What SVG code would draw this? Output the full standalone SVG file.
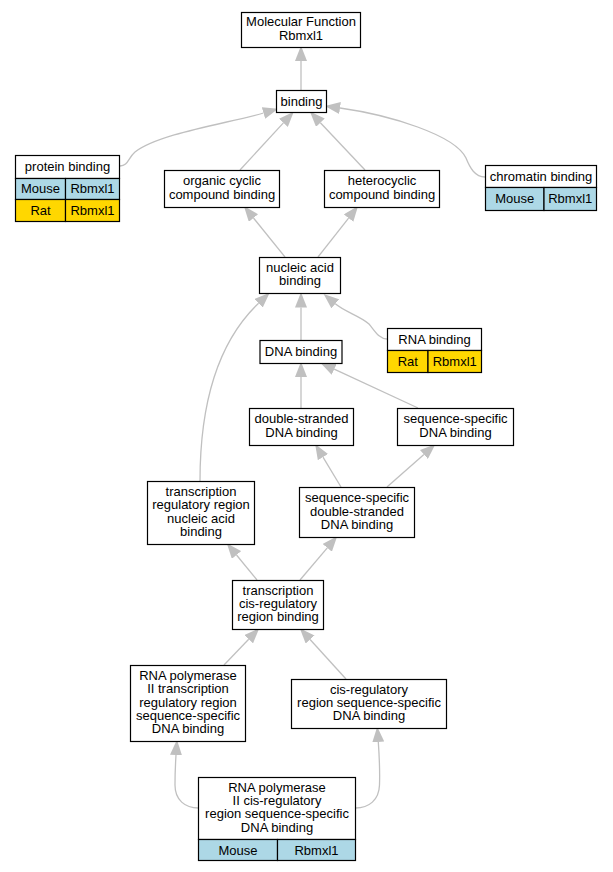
<svg xmlns="http://www.w3.org/2000/svg" width="613" height="872" viewBox="0 0 613 872">
<style>
.n{fill:#ffffff;stroke:#000000;stroke-width:1.2}
.m{fill:#add8e6;stroke:#000000;stroke-width:1.2}
.r{fill:#ffd700;stroke:#000000;stroke-width:1.2}
text{font-family:"Liberation Sans",Arial,sans-serif;font-size:13px;text-anchor:middle;fill:#000000}
.e{fill:none;stroke:#c0c0c0;stroke-width:1.3}
</style>
<defs>
<marker id="a" markerUnits="userSpaceOnUse" markerWidth="16" markerHeight="12" refX="0" refY="5.3" orient="auto" viewBox="0 0 14 10.6">
<path d="M0,0 L13.5,5.3 L0,10.6 z" fill="#c0c0c0"/>
</marker>
</defs>
<rect width="613" height="872" fill="#ffffff"/>
<g id="edges">
<path class="e" marker-end="url(#a)" d="M301,90 L301,61"/>
<path class="e" marker-end="url(#a)" d="M120,166 C128,166 128,158 135,152 C160,133 230,123 263.5,113"/>
<path class="e" marker-end="url(#a)" d="M240,170 L283.4,122.9"/>
<path class="e" marker-end="url(#a)" d="M365,170 L320.4,122.7"/>
<path class="e" marker-end="url(#a)" d="M485,177 C475,177 470,168 466,158 C455,135 390,115 340,108"/>
<path class="e" marker-end="url(#a)" d="M285,257 L253.5,218"/>
<path class="e" marker-end="url(#a)" d="M318,257 L348.6,218.1"/>
<path class="e" marker-end="url(#a)" d="M301,340 L301,307.5"/>
<path class="e" marker-end="url(#a)" d="M387,339 C379,339 375,331 369,324 C360,316 345,312 335.3,303.8"/>
<path class="e" marker-end="url(#a)" d="M200,481 C200,400 220,340 258.6,303.2"/>
<path class="e" marker-end="url(#a)" d="M301,408 L301,377"/>
<path class="e" marker-end="url(#a)" d="M418,408 L334.2,369.2"/>
<path class="e" marker-end="url(#a)" d="M341,487 L323,457.1"/>
<path class="e" marker-end="url(#a)" d="M387,487 L423.9,454.4"/>
<path class="e" marker-end="url(#a)" d="M257,580 L236.5,555"/>
<path class="e" marker-end="url(#a)" d="M300,580 L327.3,547.8"/>
<path class="e" marker-end="url(#a)" d="M224,665 L248.7,639.2"/>
<path class="e" marker-end="url(#a)" d="M346,679 L310.1,639.5"/>
<path class="e" marker-end="url(#a)" d="M198.5,808 C185,808 175,800 175,785 C175,772 175.5,763 176,755"/>
<path class="e" marker-end="url(#a)" d="M355.5,808 C369,808 379,800 379.5,785 C380,770 379,752 378.3,742"/>
</g>
<g id="mf">
<rect class="n" x="241.5" y="12.5" width="119" height="35"/>
<text x="301" y="26.4">Molecular Function</text>
<text x="301" y="39.7">Rbmxl1</text>
</g>
<g id="binding">
<rect class="n" x="276.5" y="90.5" width="50" height="22"/>
<text x="301.5" y="105.5">binding</text>
</g>
<g id="protein_binding">
<rect class="n" x="15.5" y="155.5" width="104" height="23"/>
<rect class="m" x="15.5" y="178.5" width="50" height="21"/>
<rect class="m" x="65.5" y="178.5" width="54" height="21"/>
<rect class="r" x="15.5" y="199.5" width="50" height="22"/>
<rect class="r" x="65.5" y="199.5" width="54" height="22"/>
<text x="67.5" y="171">protein binding</text>
<text x="40.5" y="193">Mouse</text>
<text x="92.5" y="193">Rbmxl1</text>
<text x="40.5" y="214.5">Rat</text>
<text x="92.5" y="214.5">Rbmxl1</text>
</g>
<g id="organic_cyclic">
<rect class="n" x="164.5" y="170.5" width="115" height="37"/>
<text x="222" y="185.4">organic cyclic</text>
<text x="222" y="198.7">compound binding</text>
</g>
<g id="heterocyclic">
<rect class="n" x="324.5" y="170.5" width="115" height="37"/>
<text x="382" y="185.4">heterocyclic</text>
<text x="382" y="198.7">compound binding</text>
</g>
<g id="chromatin_binding">
<rect class="n" x="485.5" y="165.5" width="111" height="22"/>
<rect class="m" x="485.5" y="187.5" width="58.5" height="23"/>
<rect class="m" x="544" y="187.5" width="52.5" height="23"/>
<text x="541" y="180.5">chromatin binding</text>
<text x="514.75" y="203">Mouse</text>
<text x="570.25" y="203">Rbmxl1</text>
</g>
<g id="nucleic_acid">
<rect class="n" x="259.5" y="257.5" width="81" height="36"/>
<text x="300" y="271.9">nucleic acid</text>
<text x="300" y="285.2">binding</text>
</g>
<g id="rna_binding">
<rect class="n" x="387.5" y="328.5" width="94" height="22"/>
<rect class="r" x="387.5" y="350.5" width="40.5" height="22"/>
<rect class="r" x="428" y="350.5" width="53.5" height="22"/>
<text x="434.5" y="343.5">RNA binding</text>
<text x="407.75" y="365.5">Rat</text>
<text x="454.75" y="365.5">Rbmxl1</text>
</g>
<g id="dna_binding">
<rect class="n" x="260" y="340.5" width="82" height="23"/>
<text x="301" y="356">DNA binding</text>
</g>
<g id="ds_dna">
<rect class="n" x="249.5" y="408.5" width="104" height="37"/>
<text x="301.5" y="423.4">double-stranded</text>
<text x="301.5" y="436.7">DNA binding</text>
</g>
<g id="ss_dna">
<rect class="n" x="397.5" y="408.5" width="116" height="37"/>
<text x="455.5" y="423.4">sequence-specific</text>
<text x="455.5" y="436.7">DNA binding</text>
</g>
<g id="trr_nab">
<rect class="n" x="147.5" y="481.5" width="107" height="63"/>
<text x="201" y="496">transcription</text>
<text x="201" y="509.4">regulatory region</text>
<text x="201" y="522.7">nucleic acid</text>
<text x="201" y="536">binding</text>
</g>
<g id="ssds_dna">
<rect class="n" x="299.5" y="487.5" width="115" height="50"/>
<text x="357" y="502.2">sequence-specific</text>
<text x="357" y="515.5">double-stranded</text>
<text x="357" y="528.8">DNA binding</text>
</g>
<g id="tcr">
<rect class="n" x="232.5" y="580.5" width="91" height="49"/>
<text x="278" y="594.7">transcription</text>
<text x="278" y="608">cis-regulatory</text>
<text x="278" y="621.3">region binding</text>
</g>
<g id="rnap2_trr">
<rect class="n" x="130.5" y="665.5" width="115" height="76"/>
<text x="188" y="679.9">RNA polymerase</text>
<text x="188" y="693.2">II transcription</text>
<text x="188" y="706.5">regulatory region</text>
<text x="188" y="719.8">sequence-specific</text>
<text x="188" y="733.1">DNA binding</text>
</g>
<g id="cisreg_ss">
<rect class="n" x="291.5" y="679.5" width="155" height="49"/>
<text x="369" y="693.7">cis-regulatory</text>
<text x="369" y="707">region sequence-specific</text>
<text x="369" y="720.3">DNA binding</text>
</g>
<g id="rnap2_cis">
<rect class="n" x="198.5" y="777.5" width="157" height="62"/>
<rect class="m" x="198.5" y="839.5" width="79" height="21"/>
<rect class="m" x="277.5" y="839.5" width="78" height="21"/>
<text x="277" y="791.5">RNA polymerase</text>
<text x="277" y="804.9">II cis-regulatory</text>
<text x="277" y="818.2">region sequence-specific</text>
<text x="277" y="831.5">DNA binding</text>
<text x="238" y="854.5">Mouse</text>
<text x="316.5" y="854.5">Rbmxl1</text>
</g>
</svg>
